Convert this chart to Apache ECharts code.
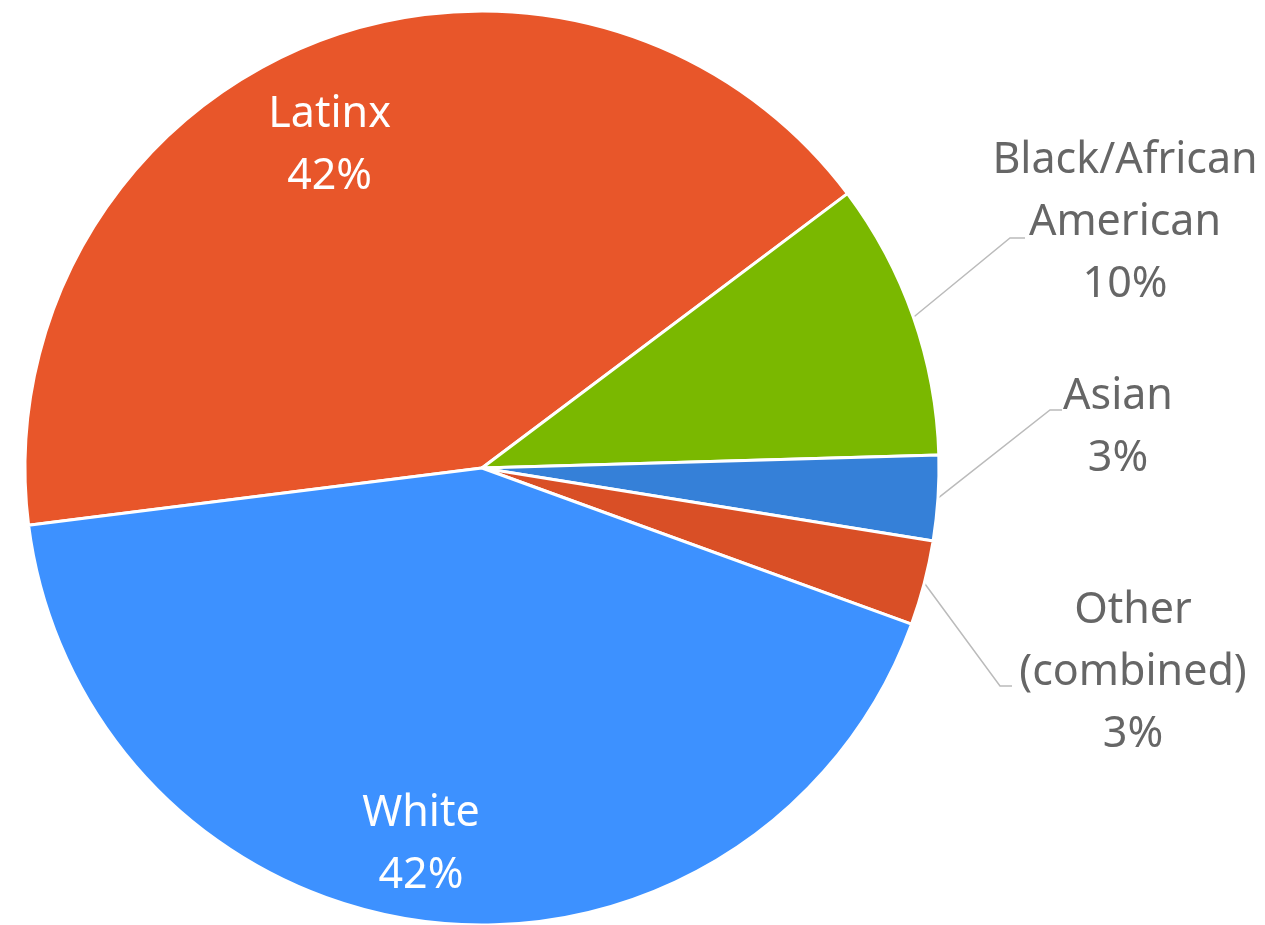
<!DOCTYPE html>
<html><head><meta charset="utf-8">
<script src="https://cdn.jsdelivr.net/npm/echarts@6/dist/echarts.min.js"></script>
<style>html,body{margin:0;padding:0;background:#fff}#c{width:1265px;height:925px}</style>
</head><body><div id="c"></div>
<script>
const categories = ['Latinx', 'Black/African\nAmerican', 'Asian', 'Other\n(combined)', 'White'];
const values = [41.75, 9.8, 3.0, 3.0, 42.45];
const colors = ['#E8562A', '#7AB800', '#3580D8', '#D94F26', '#3D91FF'];
const insideLabel = [true, false, false, false, true];
// label layout only (positions of label blocks and leader-line elbows)
const outsidePos = {1: [1125, 223], 2: [1118, 428], 3: [1133, 673]};
const outsideElbow = {1: [[1010, 238], [1025, 238]], 2: [[1050, 410], [1062, 410]], 3: [[1000, 686], [1012, 686]]};
const insideShift = {0: [-14, 19], 4: [-20, 10]};

const R = 457, CX = 482, CY = 468;
const font = 'Noto Sans';

const chart = echarts.init(document.getElementById('c'));
const mainData = categories.map((n, i) => ({
  name: n, value: values[i],
  itemStyle: {color: colors[i]},
  label: {show: !insideLabel[i]},
  labelLine: {show: !insideLabel[i]}
}));
const overlayData = categories.map((n, i) => ({
  name: n, value: values[i],
  label: {show: insideLabel[i]}
}));

chart.setOption({
  animation: false,
  series: [{
    type: 'pie',
    center: [CX, CY],
    radius: [0, R],
    startAngle: 187.2,
    clockwise: true,
    avoidLabelOverlap: false,
    percentPrecision: 0,
    itemStyle: {borderColor: '#fff', borderWidth: 3},
    label: {
      position: 'outside',
      formatter: '{b}\n{d}%',
      color: '#666666', fontFamily: font, fontSize: 43, lineHeight: 62, align: 'center'
    },
    labelLine: {show: true, length: 20, length2: 14, lineStyle: {color: '#bbbbbb', width: 1.5}},
    labelLayout: function (p) {
      const pos = outsidePos[p.dataIndex];
      if (!pos) return {};
      const res = {x: pos[0], y: pos[1], align: 'center', verticalAlign: 'middle'};
      if (p.labelLinePoints && p.labelLinePoints[0]) {
        const e = outsideElbow[p.dataIndex];
        res.labelLinePoints = [p.labelLinePoints[0], e[0], e[1]];
      }
      return res;
    },
    emphasis: {disabled: true},
    data: mainData
  }, {
    type: 'pie',
    center: [CX, CY],
    radius: [R * 0.6, R],
    startAngle: 187.2,
    clockwise: true,
    silent: true,
    percentPrecision: 0,
    itemStyle: {color: 'rgba(0,0,0,0)', borderWidth: 0},
    label: {
      position: 'inside',
      formatter: '{b}\n{d}%',
      color: '#ffffff', fontFamily: font, fontSize: 43, lineHeight: 62
    },
    labelLine: {show: false},
    labelLayout: function (p) {
      const s = insideShift[p.dataIndex];
      return s ? {dx: s[0], dy: s[1]} : {};
    },
    emphasis: {disabled: true},
    data: overlayData
  }]
});
</script></body></html>
